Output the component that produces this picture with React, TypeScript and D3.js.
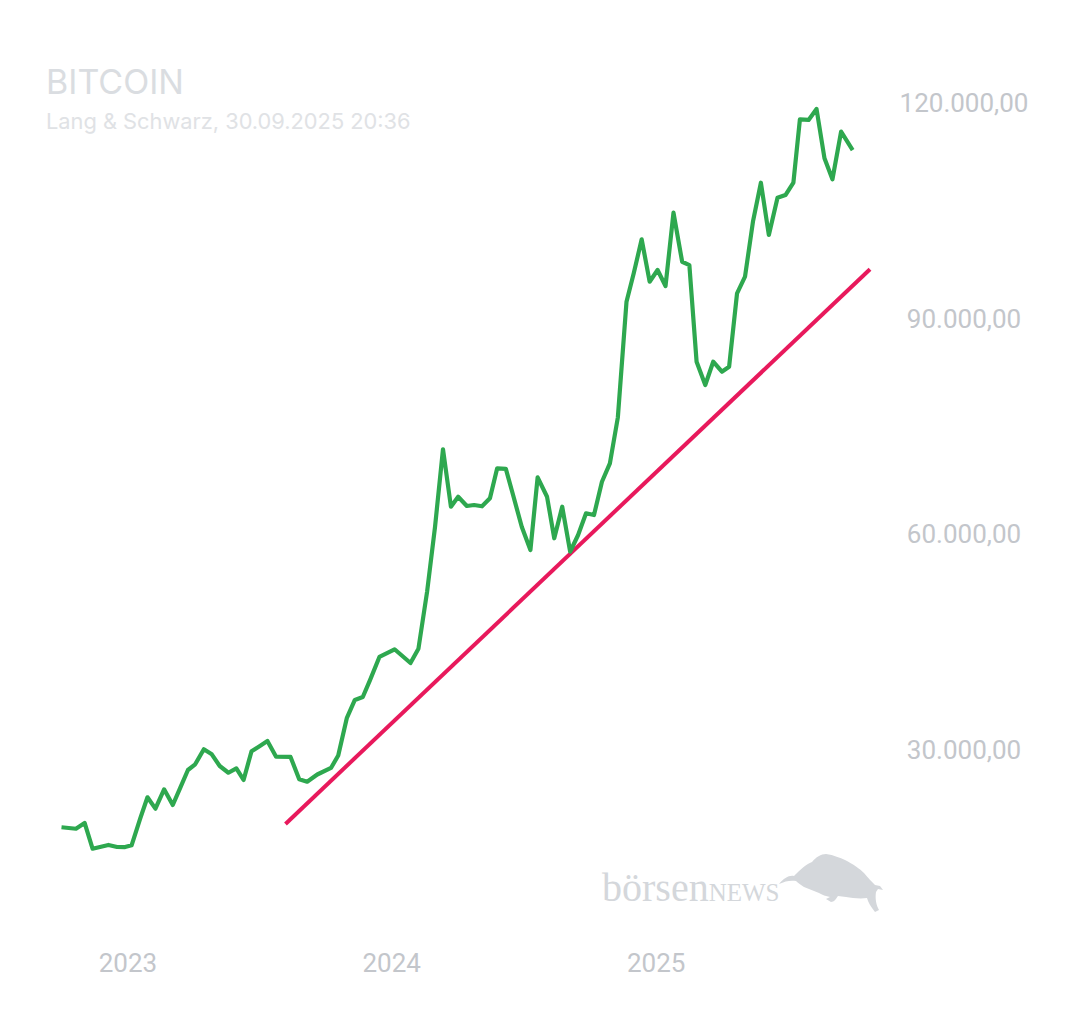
import React from 'react';
import * as d3 from 'd3';

// BTC closing prices (EUR)
const dates = ['2022-10-01','2022-10-21','2022-11-02','2022-11-13','2022-12-05','2022-12-17','2022-12-28','2023-01-06','2023-01-18','2023-01-28',
  '2023-02-08','2023-02-20','2023-03-04','2023-03-14','2023-03-25','2023-04-04','2023-04-16','2023-04-27','2023-05-08','2023-05-20',
  '2023-05-31','2023-06-10','2023-06-21','2023-07-01','2023-07-13','2023-07-25','2023-08-14','2023-08-26','2023-09-06','2023-09-20',
  '2023-10-09','2023-10-19','2023-10-31','2023-11-11','2023-11-22','2023-12-02','2023-12-15','2024-01-05','2024-01-27','2024-02-07',
  '2024-02-19','2024-03-01','2024-03-12','2024-03-23','2024-04-02','2024-04-14','2024-04-24','2024-05-05','2024-05-16','2024-05-26',
  '2024-06-07','2024-06-17','2024-06-29','2024-07-11','2024-07-21','2024-08-03','2024-08-13','2024-08-24','2024-09-04','2024-09-15',
  '2024-09-26','2024-10-07','2024-10-18','2024-10-29','2024-11-09','2024-11-21','2024-12-01','2024-12-12','2024-12-23','2025-01-03',
  '2025-01-14','2025-01-25','2025-02-06','2025-02-16','2025-02-26','2025-03-10','2025-03-21','2025-04-02','2025-04-12','2025-04-23',
  '2025-05-04','2025-05-15','2025-05-26','2025-06-06','2025-06-18','2025-06-29','2025-07-10','2025-07-19','2025-07-31','2025-08-11',
  '2025-08-22','2025-09-02','2025-09-14','2025-09-30'];

const prices = [19250,19050,19850,16270,16790,16510,16500,16740,20500,23420,
  21840,24530,22350,24670,27220,28010,30100,29400,27770,26840,
  27450,25830,29830,30460,31250,29070,29030,25940,25590,26590,
  27500,29240,34480,36960,37370,39710,42940,44010,42100,44080,
  52020,61060,71830,63840,65230,63940,64080,63900,65010,69180,
  69100,65470,61060,57820,67930,65230,59450,63840,57580,59910,
  62930,62690,67320,69880,76250,92360,96310,101040,95140,96770,
  94540,104740,97920,97460,84010,80770,84010,82620,83320,93530,
  95840,103490,108910,101640,106810,107200,108940,117730,117650,119160,
  112310,109380,116010,113460];

// support trend line
const trendDates = ['2023-08-07', '2025-10-24'];
const trendValues = [19710, 96870];

const yTicks = [120000, 90000, 60000, 30000];
const xTicks = ['2023', '2024', '2025'];

const title = 'BITCOIN';
const subtitle = 'Lang & Schwarz, 30.09.2025 20:36';

const de = d3.formatLocale({ decimal: ',', thousands: '.', grouping: [3], currency: ['', ' €'] });
const fmt = de.format(',.2f');

export default function App() {
  const W = 1080, H = 1013;
  const parse = d3.utcParse('%Y-%m-%d');

  const x = d3.scaleUtc()
    .domain([parse('2022-10-01')!, parse('2025-10-24')!])
    .range([61.5, 870]);
  const y = d3.scaleLinear().domain([30000, 120000]).range([750, 103]);

  const series = dates.map((d, i) => ({ date: parse(d)!, value: prices[i] }));
  const trend = trendDates.map((d, i) => ({ date: parse(d)!, value: trendValues[i] }));

  const line = d3.line<{ date: Date; value: number }>()
    .x(d => x(d.date))
    .y(d => y(d.value));

  const grey = '#c3c6cb';

  return (
    <svg width={W} height={H} style={{ position: 'absolute', left: 0, top: 0, background: '#fff' }}>
      <text x={46} y={94} fontFamily="Inter, 'Noto Sans', sans-serif" fontSize={34} fill="#dadde1">{title}</text>
      <text x={46} y={129} fontFamily="Inter, 'Noto Sans', sans-serif" fontSize={21.8} fill="#e0e2e5">{subtitle}</text>

      {yTicks.map(t => (
        <text key={t} x={964} y={y(t)} textAnchor="middle" dominantBaseline="central"
          fontFamily="Roboto, sans-serif" fontSize={26} fill={grey}>{fmt(t)}</text>
      ))}

      {xTicks.map(t => (
        <text key={t} x={x(parse(t + '-01-01')!)} y={963} textAnchor="middle" dominantBaseline="central"
          fontFamily="Roboto, sans-serif" fontSize={26} fill={grey}>{t}</text>
      ))}

      {/* watermark */}
      <g fill="#d4d7db">
        <text x={602} y={901} fontFamily="'Liberation Serif', 'DejaVu Serif', serif" fontSize={40}>
          börsen<tspan fontSize={25}>NEWS</tspan>
        </text>
        <path d="M779,884 C784,878 789,875 794,876 C800,870 806,864 812,862 C816,857 821,854 826,854 C834,855 840,858 845,860 C853,864 860,869 864,873 C868,878 872,882 875,885 L880,886 L883,890 L878,889 L876,892 C875,898 876,905 879,910 L875,912 C871,907 868,902 867,898 C860,899 852,898 846,897 L838,896 C836,899 834,902 831,902 L826,899 L830,897 C826,896 822,895 819,893 C814,891 809,889 804,887 C801,885 798,883 796,881 C791,880 785,881 779,884 Z" />
      </g>

      <path d={line(trend)!} fill="none" stroke="#e8195c" strokeWidth={4} />
      <path d={line(series)!} fill="none" stroke="#2ea84f" strokeWidth={4.2} strokeLinejoin="round" />
    </svg>
  );
}
